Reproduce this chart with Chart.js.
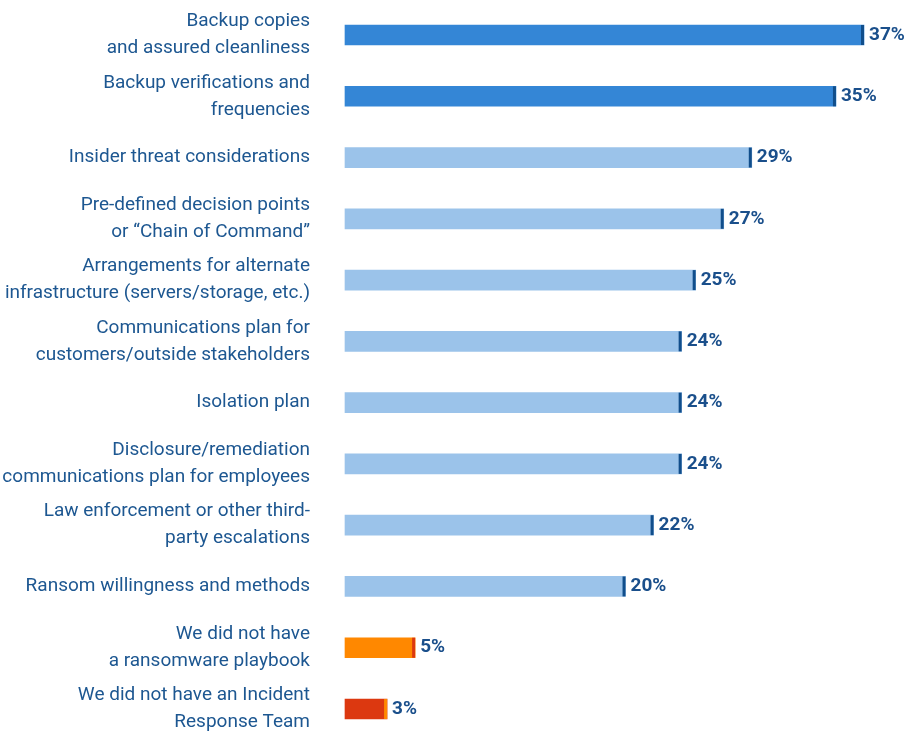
<!DOCTYPE html>
<html>
<head>
<meta charset="utf-8">
<script src="https://cdn.jsdelivr.net/npm/chart.js@4/dist/chart.umd.min.js"></script>
<style>
    html, body { margin: 0; padding: 0; background: #fff; }
    #wrap { width: 904px; height: 733px; position: relative; }
</style>
</head>
<body>
<div id="wrap"><canvas id="playbookChart"></canvas></div>
<script>
var labels = [
    ["Backup copies", "and assured cleanliness"],
    ["Backup verifications and", "frequencies"],
    "Insider threat considerations",
    ["Pre-defined decision points", "or \u201cChain of Command\u201d"],
    ["Arrangements for alternate", "infrastructure (servers/storage, etc.)"],
    ["Communications plan for", "customers/outside stakeholders"],
    "Isolation plan",
    ["Disclosure/remediation", "communications plan for employees"],
    ["Law enforcement or other third-", "party escalations"],
    "Ransom willingness and methods",
    ["We did not have", "a ransomware playbook"],
    ["We did not have an Incident", "Response Team"]
];
var values = [37, 35, 29, 27, 25, 24, 24, 24, 22, 20, 5, 3];
var barColors = ["#3486d6", "#3486d6", "#9bc3ea", "#9bc3ea", "#9bc3ea", "#9bc3ea",
                 "#9bc3ea", "#9bc3ea", "#9bc3ea", "#9bc3ea", "#ff8800", "#dc3810"];
var capColors = ["#114e8b", "#114e8b", "#114e8b", "#114e8b", "#114e8b", "#114e8b",
                 "#114e8b", "#114e8b", "#114e8b", "#114e8b", "#dc3810", "#ff8800"];

var TEXT = "#1d5791";

// thin cap at the end of each bar plus the percentage next to it
var barEnds = {
    id: 'barEnds',
    afterDatasetsDraw: function (chart) {
        var ctx = chart.ctx;
        var meta = chart.getDatasetMeta(0);
        ctx.save();
        meta.data.forEach(function (bar, i) {
            var h = bar.height;
            ctx.fillStyle = capColors[i];
            ctx.fillRect(bar.x - 3, bar.y - h / 2, 3, h);
            ctx.fillStyle = "#1a4f8b";
            ctx.font = "bold 19px Roboto";
            ctx.textAlign = "left";
            ctx.textBaseline = "middle";
            ctx.fillText(values[i] + "%", bar.x + 5, bar.y);
        });
        ctx.restore();
    }
};

var ctx = document.getElementById("playbookChart").getContext("2d");
new Chart(ctx, {
    type: 'bar',
    data: {
        labels: labels,
        datasets: [{
            data: values,
            backgroundColor: barColors,
            barThickness: 20,
            clip: false
        }]
    },
    options: {
        indexAxis: 'y',
        responsive: true,
        maintainAspectRatio: false,
        animation: false,
        layout: { padding: { top: 35, bottom: 24, left: 0, right: 40 } },
        plugins: {
            legend: { display: false },
            tooltip: { enabled: false }
        },
        scales: {
            x: {
                display: false,
                min: 0,
                max: 37
            },
            y: {
                offset: false,
                grid: { display: false, drawTicks: false },
                border: { display: false },
                ticks: {
                    autoSkip: false,
                    padding: 35,
                    color: TEXT,
                    font: { family: "Roboto", size: 19, lineHeight: 1.42 }
                },
                afterFit: function (scale) {
                    scale.width = 345;
                    scale.paddingTop = 0;
                    scale.paddingBottom = 0;
                }
            }
        }
    },
    plugins: [barEnds]
});
</script>
</body>
</html>
